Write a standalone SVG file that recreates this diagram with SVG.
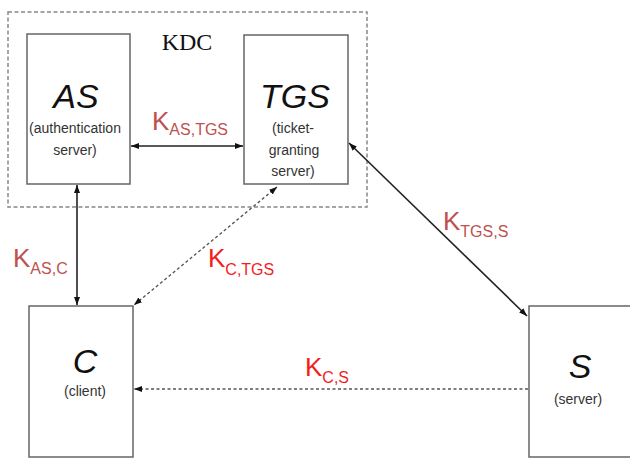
<svg xmlns="http://www.w3.org/2000/svg" width="630" height="458" viewBox="0 0 630 458">
<defs>
<marker id="ah" viewBox="0 0 8 6" refX="8" refY="3" markerWidth="8" markerHeight="6" markerUnits="userSpaceOnUse" orient="auto-start-reverse">
<path d="M0,0 L8,3 L0,6 Z" fill="#111"/>
</marker>
</defs>
<style>
.box{fill:#fff;stroke:#666;stroke-width:1.5}
.kdc{fill:none;stroke:#888;stroke-width:1.5;stroke-dasharray:4 2.5}
.big{font-family:"Liberation Sans",Arial,sans-serif;font-style:italic;font-size:34px;fill:#111;text-anchor:middle}
.small{font-family:"Liberation Sans",Arial,sans-serif;font-size:14px;fill:#333;text-anchor:middle}
.key{font-family:"Liberation Sans",Arial,sans-serif;font-size:26px}
.sub{font-size:16px}
.muted{fill:#c0504d}
.bright{fill:#f21d1d}
.solid{stroke:#222;stroke-width:1.6;fill:none}
.dash{stroke:#555;stroke-width:1.4;stroke-dasharray:3 2.5;fill:none}
</style>
<g id="kdc">
<rect class="kdc" x="8" y="12" width="359" height="195"/>
<text x="187" y="50" font-family="Liberation Serif,Times New Roman,serif" font-size="24" fill="#111" text-anchor="middle">KDC</text>
</g>
<g id="as">
<rect class="box" x="27" y="34" width="103" height="150"/>
<text class="big" x="76" y="108">AS</text>
<text class="small" x="75" y="133">(authentication</text>
<text class="small" x="75" y="155">server)</text>
</g>
<g id="tgs">
<rect class="box" x="244" y="35" width="104" height="149"/>
<text class="big" x="295" y="108">TGS</text>
<text class="small" x="293" y="133">(ticket-</text>
<text class="small" x="294" y="155">granting</text>
<text class="small" x="293" y="176">server)</text>
</g>
<g id="c">
<rect class="box" x="29" y="306" width="104" height="151"/>
<text class="big" x="85" y="373">C</text>
<text class="small" x="85" y="396">(client)</text>
</g>
<g id="s">
<rect class="box" x="529" y="306" width="104" height="151"/>
<text class="big" x="580" y="378">S</text>
<text class="small" x="578" y="404">(server)</text>
</g>
<g id="connectors">
<line class="solid" x1="131" y1="146" x2="243" y2="146" marker-start="url(#ah)" marker-end="url(#ah)"/>
<line class="solid" x1="77" y1="185" x2="77" y2="305" marker-start="url(#ah)" marker-end="url(#ah)"/>
<line class="dash" x1="277" y1="187" x2="134" y2="305" marker-start="url(#ah)" marker-end="url(#ah)"/>
<line class="solid" x1="349" y1="143" x2="527" y2="316" marker-start="url(#ah)" marker-end="url(#ah)"/>
<line class="dash" x1="528" y1="389" x2="134" y2="389" marker-end="url(#ah)"/>
</g>
<g id="labels">
<text class="key muted" x="152" y="130">K<tspan class="sub" dy="5">AS,TGS</tspan></text>
<text class="key muted" x="13" y="267">K<tspan class="sub" dy="7">AS,C</tspan></text>
<text class="key bright" x="208" y="267">K<tspan class="sub" dy="8">C,TGS</tspan></text>
<text class="key bright" x="305" y="376">K<tspan class="sub" dy="7">C,S</tspan></text>
<text class="key muted" x="443" y="230">K<tspan class="sub" dy="7">TGS,S</tspan></text>
</g>
</svg>
